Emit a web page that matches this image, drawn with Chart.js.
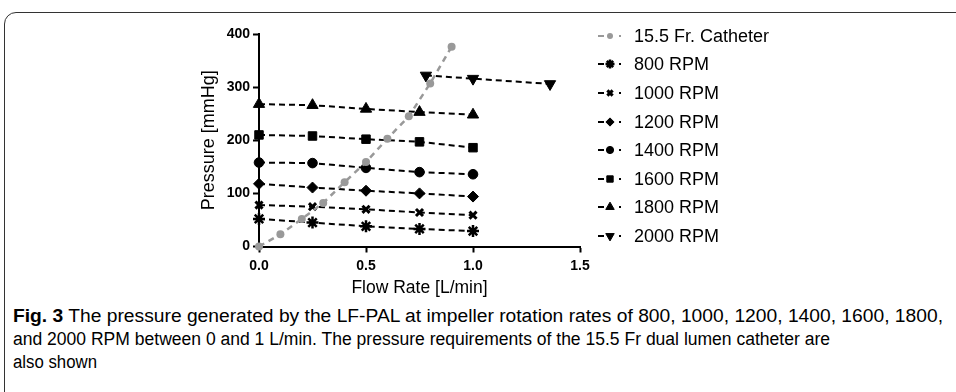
<!DOCTYPE html>
<html>
<head>
<meta charset="utf-8">
<script src="https://cdn.jsdelivr.net/npm/chart.js@4.4.1/dist/chart.umd.min.js"></script>
<style>
body{margin:0;background:#fff;width:956px;height:392px;overflow:hidden;position:relative;font-family:Arial,"Liberation Sans",Helvetica,sans-serif;color:#000}
#frame{position:absolute;left:4px;top:12px;width:1000px;height:500px;border:1.5px solid #333;border-top-left-radius:12px;box-sizing:border-box}
#chart{position:absolute;left:0;top:0}
.lg{position:absolute;left:594px;height:20px}
.lg canvas{position:absolute;left:0;top:0}
.lg span{position:absolute;left:40px;top:0;line-height:20px;font-size:18px;white-space:nowrap}
#caption{position:absolute;left:13px;top:305px;font-size:18px;line-height:23px}
#caption div{white-space:nowrap;display:block;width:max-content;transform-origin:0 50%}
</style>
</head>
<body>
<div id="frame"></div>
<canvas id="chart" width="956" height="300"></canvas>
<div id="legend"></div>
<div id="caption">
<div data-w="930"><b>Fig. 3</b> The pressure generated by the LF-PAL at impeller rotation rates of 800, 1000, 1200, 1400, 1600, 1800,</div>
<div data-w="817">and 2000 RPM between 0 and 1 L/min. The pressure requirements of the 15.5 Fr dual lumen catheter are</div>
<div data-w="84">also shown</div>
</div>
<script>
// values
const flowCath = [0, 0.1, 0.2, 0.3, 0.4, 0.5, 0.6, 0.7, 0.8, 0.9];
const pCath = [0, 23, 52, 82, 121, 159, 203, 245, 307, 376];

const flowRpm = [0, 0.25, 0.5, 0.75, 1.0];
const p800 = [52, 45, 38, 33, 29];
const p1000 = [78, 75, 70, 64, 59];
const p1200 = [118, 111, 105, 100, 94];
const p1400 = [158, 157, 148, 140, 136];
const p1600 = [210, 208, 202, 197, 186];
const p1800 = [268, 266, 259, 253, 248];

const flow2000 = [0.78, 1.0, 1.36];
const p2000 = [322, 316, 306];

const xTicks = [0, 0.5, 1.0, 1.5];
const yTicks = [0, 100, 200, 300, 400];

function pts(xs, ys){
  return xs.map((x, i) => ({x: x, y: ys[i]}));
}

function series(label, xs, ys, style, radius, bw, rot, color){
  return {
    label: label,
    data: pts(xs, ys),
    borderColor: color,
    backgroundColor: color,
    borderWidth: color === '#000' ? 2 : 2.5,
    borderDash: color === '#000' ? [6, 4] : [6, 5],
    pointStyle: style,
    pointRadius: radius,
    pointBorderWidth: bw,
    pointRotation: rot,
    pointBackgroundColor: color,
    pointBorderColor: color,
    showLine: true,
    clip: false,
    tension: 0
  };
}

const datasets = [
  series('15.5 Fr. Catheter', flowCath, pCath, 'circle', 4, 0, 0, '#999'),
  series('800 RPM', flowRpm, p800, 'star', 6, 2.5, 0, '#000'),
  series('1000 RPM', flowRpm, p1000, 'crossRot', 5, 3, 0, '#000'),
  series('1200 RPM', flowRpm, p1200, 'rectRot', 5.5, 1, 0, '#000'),
  series('1400 RPM', flowRpm, p1400, 'circle', 4.8, 1, 0, '#000'),
  series('1600 RPM', flowRpm, p1600, 'rect', 6, 1, 0, '#000'),
  series('1800 RPM', flowRpm, p1800, 'triangle', 6.5, 1, 0, '#000'),
  series('2000 RPM', flow2000, p2000, 'triangle', 6.5, 1, 180, '#000')
];

Chart.defaults.font.family = 'Arial, "Liberation Sans", Helvetica, sans-serif';
Chart.defaults.color = '#000';

const gridOpts = {drawOnChartArea: false, drawTicks: true, tickLength: 6, tickWidth: 2, tickColor: '#000'};

const chart = new Chart(document.getElementById('chart'), {
  type: 'scatter',
  data: {datasets: datasets},
  options: {
    responsive: false,
    animation: false,
    layout: {padding: {left: 195, top: 34, right: 376, bottom: 1.5}},
    plugins: {legend: {display: false}, tooltip: {enabled: false}},
    scales: {
      x: {
        type: 'linear', min: 0, max: 1.5,
        afterFit: s => { s.height = 52; },
        afterBuildTicks: s => { s.ticks = xTicks.map(v => ({value: v})); },
        ticks: {callback: v => v.toFixed(1), font: {size: 14, weight: 'bold'}, padding: 5, maxRotation: 0},
        grid: gridOpts,
        border: {color: '#000', width: 2},
        title: {display: true, text: 'Flow Rate [L/min]', font: {size: 17.5}, padding: 0}
      },
      y: {
        type: 'linear', min: 0, max: 400,
        afterFit: s => { s.width = 64; },
        afterBuildTicks: s => { s.ticks = yTicks.map(v => ({value: v})); },
        ticks: {font: {size: 14, weight: 'bold'}, padding: 3},
        grid: gridOpts,
        border: {color: '#000', width: 2},
        title: {display: true, text: 'Pressure [mmHg]', font: {size: 18}, padding: {top: 3.5, bottom: 0}}
      }
    }
  }
});

// legend in the figure's own style: dash, marker, dot
const legend = document.getElementById('legend');
const drawPoint = Chart.helpers && Chart.helpers.drawPoint;
datasets.forEach((ds, i) => {
  const row = document.createElement('div');
  row.className = 'lg';
  row.style.top = (35.7 + i * 28.6 - 10) + 'px';
  const c = document.createElement('canvas');
  c.width = 34; c.height = 20;
  const ctx = c.getContext('2d');
  ctx.strokeStyle = ds.borderColor;
  ctx.fillStyle = ds.borderColor;
  ctx.lineWidth = 2;
  ctx.beginPath(); ctx.moveTo(4, 10); ctx.lineTo(10, 10); ctx.stroke();
  ctx.fillRect(25, 9, 2, 2);
  if (drawPoint) {
    ctx.lineWidth = ds.pointBorderWidth;
    drawPoint(ctx, {pointStyle: ds.pointStyle, radius: ds.pointRadius * 0.75, rotation: ds.pointRotation, borderWidth: ds.pointBorderWidth}, 16, 10);
  }
  const t = document.createElement('span');
  t.textContent = ds.label;
  row.appendChild(c);
  row.appendChild(t);
  legend.appendChild(row);
});

// caption lines are set in a narrower face in the original; fit each line to its width
document.querySelectorAll('#caption div').forEach(d => {
  const w = d.getBoundingClientRect().width;
  d.style.transform = 'scaleX(' + (d.dataset.w / w) + ')';
});
</script>
</body>
</html>
